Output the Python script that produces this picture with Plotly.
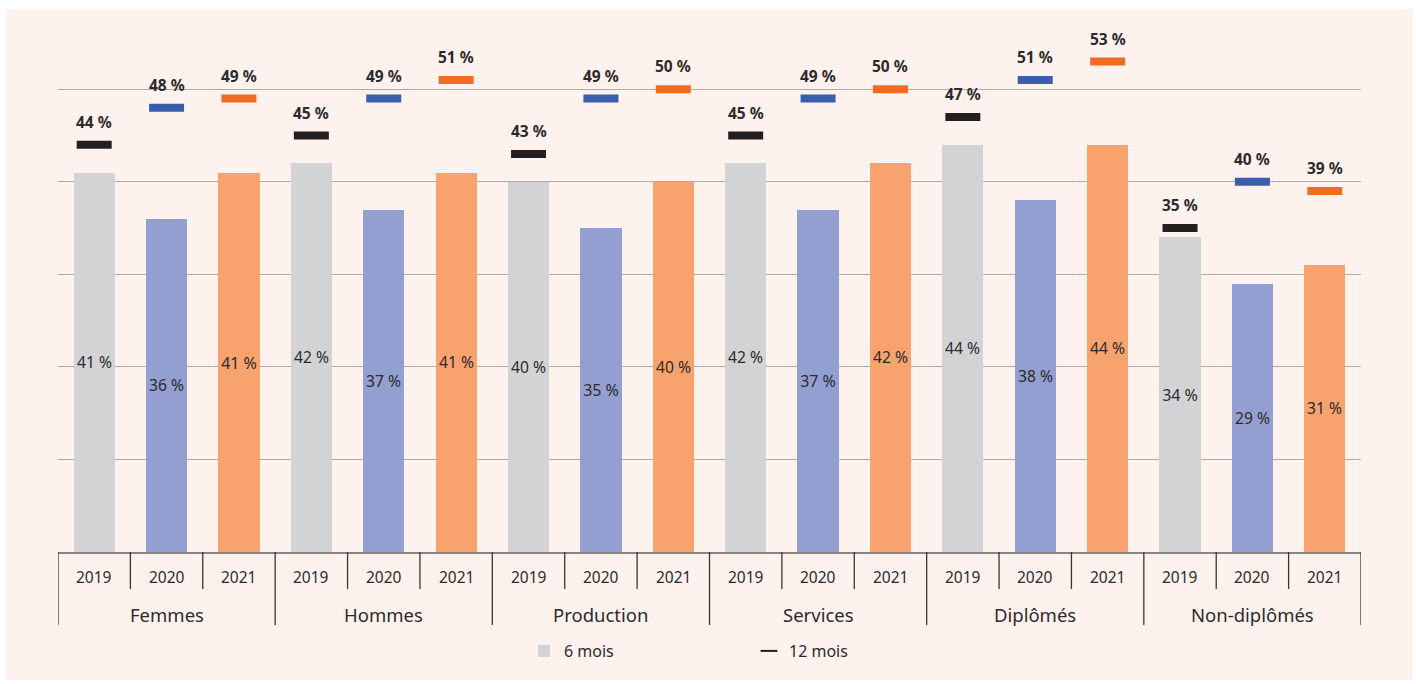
import plotly.graph_objects as go

groups = ["Femmes", "Hommes", "Production", "Services", "Diplômés", "Non-diplômés"]
years = ["2019", "2020", "2021"]
six_months = [41, 36, 41, 42, 37, 41, 40, 35, 40, 42, 37, 42, 44, 38, 44, 34, 29, 31]
twelve_months = [44, 48, 49, 45, 49, 51, 43, 49, 50, 45, 49, 50, 47, 51, 53, 35, 40, 39]

bar_colors = ["#d1d3d4", "#949fd1", "#f8a26e"]
mark_colors = ["#231f20", "#3a5dad", "#f26b22"]
FONT = "Noto Sans"
TXT = "#2d2a2b"

n = len(groups) * len(years)
xs = list(range(n))
year_idx = [i % len(years) for i in xs]

fig = go.Figure()
fig.add_trace(go.Bar(
    x=xs, y=six_months, name="6 mois", width=0.57,
    marker=dict(color=[bar_colors[k] for k in year_idx], line=dict(width=0)),
    text=[f"{v} %" for v in six_months], textposition="inside",
    insidetextanchor="middle", textangle=0,
    textfont=dict(family=FONT, size=16, color=TXT),
    hoverinfo="skip",
))
fig.add_trace(go.Scatter(
    x=xs, y=twelve_months, name="12 mois", mode="markers",
    marker=dict(symbol="line-ew", size=25,
                color=[mark_colors[k] for k in year_idx],
                line=dict(width=8, color=[mark_colors[k] for k in year_idx])),
    hoverinfo="skip",
))

annotations = []
for x, v in zip(xs, twelve_months):
    annotations.append(dict(x=x, y=v, xref="x", yref="y", text=f"<b>{v} %</b>",
                            showarrow=False, yshift=23,
                            font=dict(family=FONT, size=15.5, color=TXT)))

# category table below axis
PLOT_TOP, PLOT_BOTTOM = 43, 552
H = PLOT_BOTTOM - PLOT_TOP
def py(p):
    return (PLOT_BOTTOM - p) / H

shapes = []
line_col = "#3b3636"
for i in range(n + 1):
    is_group = i % len(years) == 0
    shapes.append(dict(type="line", xref="x", yref="paper", x0=i - 0.5, x1=i - 0.5,
                       y0=0, y1=py(625) if is_group else py(589),
                       line=dict(color=line_col, width=1.3)))
for x in xs:
    annotations.append(dict(x=x, y=py(577), xref="x", yref="paper",
                            text=years[x % len(years)], showarrow=False,
                            yanchor="middle",
                            font=dict(family=FONT, size=15.5, color=TXT)))
for g, name in enumerate(groups):
    annotations.append(dict(x=g * len(years) + 1, y=py(614), xref="x", yref="paper",
                            text=name, showarrow=False, yanchor="middle",
                            font=dict(family=FONT, size=18.5, color=TXT)))

# background panel
L, R = 58, 1361
W = R - L
shapes.insert(0, dict(type="rect", xref="paper", yref="paper", layer="below",
                      x0=(6 - L) / W, x1=(1413 - L) / W, y0=py(680), y1=py(9),
                      fillcolor="#fdf2ed", line=dict(width=0)))

fig.update_layout(
    width=1416, height=684,
    margin=dict(l=L, r=1416 - R, t=PLOT_TOP, b=684 - PLOT_BOTTOM),
    paper_bgcolor="white", plot_bgcolor="rgba(0,0,0,0)",
    bargap=0,
    showlegend=True,
    legend=dict(orientation="h", x=(524 - L) / W, xanchor="left",
                y=py(651), yanchor="middle", entrywidth=180, entrywidthmode="pixels",
                itemsizing="constant", bgcolor="rgba(0,0,0,0)",
                font=dict(family=FONT, size=16, color=TXT), itemclick=False),
    xaxis=dict(range=[-0.5, n - 0.5], showticklabels=False, showgrid=False,
               zeroline=False, showline=True, linecolor="#8a8482", linewidth=1.5,
               ticks=""),
    yaxis=dict(range=[0, 55], dtick=10, showticklabels=False, showgrid=True,
               gridcolor="#aeaaa8", gridwidth=1, zeroline=False, showline=False),
    shapes=shapes,
    annotations=annotations,
    font=dict(family=FONT),
)

fig.write_html("out.html", config={"displayModeBar": False},
               post_script="document.body.style.margin='0';document.body.style.overflow='hidden';")
